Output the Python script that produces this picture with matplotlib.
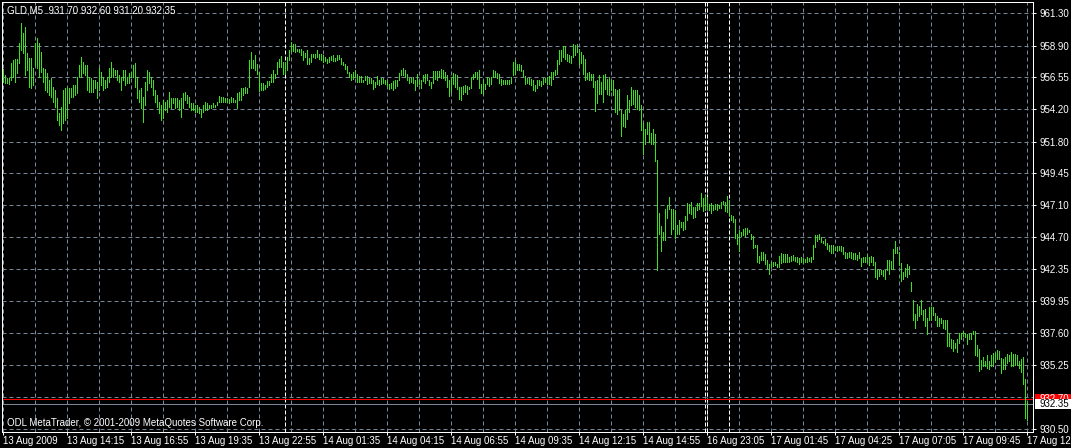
import matplotlib
matplotlib.use("Agg")
import matplotlib.pyplot as plt
import matplotlib.transforms as mtransforms
from matplotlib.patches import Rectangle
import numpy as np

plt.rcParams['font.family'] = ['Liberation Sans', 'DejaVu Sans']

# chart data, one entry per 5 minute bar
symbol = "GLD,M5"
last_ohlc = [931.70, 932.60, 931.20, 932.35]
bid = 932.35
ask = 932.70

highs = [
    957.16, 956.74, 956.49, 956.49, 957.60, 957.85, 957.90, 957.90, 959.08, 960.56,
    959.82, 960.32, 958.34, 957.97, 957.97, 957.23, 959.08, 959.45, 959.08, 958.46,
    957.23, 957.16, 956.86, 956.37, 956.49, 955.87, 955.62, 955.01, 953.90, 954.39,
    955.62, 955.75, 955.87, 955.75, 955.75, 955.99, 955.99, 956.61, 957.48, 958.09,
    957.72, 957.48, 957.48, 956.61, 956.49, 956.37, 956.37, 956.24, 957.23, 956.98,
    956.61, 956.37, 956.61, 957.23, 957.72, 957.23, 957.11, 957.11, 956.74, 956.61,
    957.11, 957.11, 956.61, 956.86, 956.98, 957.48, 957.60, 956.61, 955.62, 955.75,
    955.13, 956.24, 957.11, 956.98, 956.61, 956.37, 955.62, 955.25, 954.76, 954.51,
    954.88, 954.76, 954.88, 955.50, 955.01, 955.01, 955.01, 955.01, 954.88, 955.01,
    955.38, 955.50, 955.25, 955.13, 954.64, 954.64, 954.51, 954.51, 954.39, 954.14,
    954.51, 954.76, 954.64, 954.51, 954.51, 954.64, 954.51, 954.76, 955.18, 955.13,
    955.08, 955.01, 955.01, 954.93, 955.08, 955.01, 954.88, 955.38, 955.50, 955.75,
    955.75, 955.87, 955.75, 957.85, 958.46, 957.85,
    958.19, 957.57, 956.95, 956.14, 956.14, 955.97, 956.29, 956.29, 956.78, 957.13,
    956.83, 957.69, 957.94, 958.11, 957.69, 957.69, 958.06, 958.56, 959.15, 959.05,
    959.05, 958.68, 958.68, 958.68, 958.51, 958.36, 958.61, 958.02, 958.31, 958.31,
    958.31, 958.56, 958.31, 958.31, 958.19, 958.06, 957.94, 958.06, 958.11, 958.19,
    958.02, 958.19, 958.19, 957.99, 957.69, 957.57, 957.37, 956.95, 956.78, 956.95,
    957.13, 956.78, 956.63, 956.63, 956.34, 956.63, 956.63, 956.53, 956.53, 956.34,
    956.21, 956.63, 956.39, 956.53, 956.53, 956.34, 956.34, 956.09, 956.14, 956.29,
    956.34, 956.39, 956.88, 957.08, 957.27, 957.13, 956.83, 956.53, 956.53, 956.58,
    956.39, 956.83, 956.34, 956.34, 956.71, 956.83, 956.78, 956.39, 956.21, 957.03,
    957.03, 957.03, 957.03, 957.20, 957.13, 956.95, 956.71, 956.39, 956.53, 956.88,
    956.83, 956.71, 955.84, 955.84, 955.89, 955.97, 955.89, 955.84, 956.58, 956.83,
    956.95, 956.95, 957.08, 956.09, 956.34, 956.09, 956.58, 956.53, 956.58, 957.08,
    957.03, 956.88, 956.83, 956.46, 956.39, 956.39, 956.34, 956.39, 956.58, 957.69,
    957.82, 957.57, 957.52, 957.45, 957.08, 956.63, 956.53, 956.53, 956.46, 956.34,
    955.97, 956.39, 956.34, 956.29, 956.53, 956.53, 956.58, 956.63, 956.95, 956.95,
    957.08, 957.82, 958.61, 958.61, 958.85, 958.85, 958.31, 958.19, 958.11, 959.05,
    958.93, 959.00, 958.68, 958.44, 958.19, 957.94, 956.88, 956.95, 956.83, 956.83,
    956.29, 956.34, 956.71, 956.21, 956.71, 956.78, 956.46, 956.58, 956.34, 956.34,
    955.72, 955.60, 955.72, 954.11, 953.87, 954.11, 955.23, 954.86, 955.84, 955.65,
    955.65, 955.60, 955.23, 954.49, 953.18, 952.76, 953.25, 953.25, 952.44, 952.76,
    952.39, 950.41, 946.51, 945.52, 945.10, 946.83, 947.08, 947.70, 946.83, 946.83,
    946.71, 945.60, 946.02, 945.84, 945.84, 946.26, 947.25, 947.20, 947.32, 946.95,
    946.95, 947.25, 947.25, 947.99, 947.65, 947.82, 947.70, 947.20, 947.25, 947.08,
    947.15, 947.20, 947.08, 947.32, 947.40, 947.32, 947.74, 947.45, 946.34, 946.26,
    946.09, 944.93, 945.23, 945.10, 945.35, 945.42, 945.42, 945.23, 944.98, 944.78,
    944.12, 944.12, 943.30, 943.62, 943.62, 943.50, 943.00, 942.71,
    942.91, 942.91, 942.91, 942.74, 943.33, 943.57, 943.47, 943.47, 943.47, 943.23,
    943.33, 943.40, 943.28, 943.23, 943.16, 943.23, 943.16, 943.08, 943.23, 943.16,
    943.23, 944.14, 944.87, 944.87, 944.95, 944.70, 944.46, 944.56, 944.31, 944.14,
    944.14, 944.14, 944.02, 944.06, 944.06, 944.06, 943.97, 943.65, 943.57, 943.65,
    943.65, 943.57, 943.52, 943.40, 943.65, 943.16, 943.23, 943.28, 943.47, 943.23,
    943.33, 943.23, 942.84, 942.35, 942.30, 942.30, 942.30, 942.25, 943.03, 943.03,
    942.98, 943.82, 944.46, 944.02, 943.65, 942.79, 942.10, 942.42, 942.74, 942.59,
    941.36, 940.04, 939.05, 939.79, 939.59, 940.04, 939.35, 939.40, 938.73, 939.55,
    939.55, 939.55, 939.10, 938.91, 938.73, 938.73, 938.61, 938.61, 938.56, 937.63,
    937.14, 937.09, 936.91, 937.19, 937.63, 937.63, 937.75, 937.58, 937.51, 937.51,
    937.63, 937.75, 937.75, 936.70, 936.40, 935.62, 935.86, 935.54, 935.96, 935.54,
    935.96, 936.11, 936.11, 936.35, 936.28, 935.79, 935.66, 935.86, 936.03, 935.96,
    936.21, 936.03, 936.03, 935.96, 935.54, 935.66, 935.86, 934.19, 932.60,
]

lows = [
    956.24, 956.12, 956.12, 956.07, 956.37, 956.61, 956.24, 956.86, 957.60, 958.59,
    958.34, 956.74, 957.11, 955.87, 955.75, 955.99, 957.48, 957.23, 956.61, 956.98,
    956.24, 955.62, 955.50, 955.25, 955.13, 954.76, 954.39, 953.40, 953.03, 952.66,
    953.16, 953.40, 953.53, 954.64, 955.13, 955.13, 955.25, 955.38, 956.61, 956.61,
    956.86, 956.74, 955.62, 955.50, 955.50, 955.50, 955.75, 955.01, 955.62, 955.99,
    955.62, 955.75, 955.87, 956.24, 956.61, 956.61, 956.74, 956.37, 956.24, 955.62,
    956.37, 955.99, 956.12, 956.12, 956.61, 956.61, 955.87, 955.01, 954.76, 954.27,
    953.28, 954.51, 955.62, 956.12, 955.87, 955.25, 954.76, 954.39, 953.90, 953.40,
    953.53, 954.14, 954.02, 954.39, 954.27, 954.64, 954.27, 954.39, 954.14, 953.65,
    954.27, 954.88, 954.64, 954.39, 954.14, 954.14, 954.02, 954.02, 953.90, 953.65,
    954.02, 954.14, 954.14, 954.27, 954.27, 954.39, 954.39, 954.51, 954.76, 954.76,
    954.76, 954.76, 954.76, 954.69, 954.76, 954.76, 954.76, 954.27, 954.88, 954.88,
    955.25, 955.38, 955.38, 955.87, 957.23, 957.23,
    957.08, 956.83, 955.55, 955.60, 955.65, 955.72, 955.84, 955.97, 956.21, 956.21,
    956.53, 956.83, 957.32, 957.32, 956.83, 956.78, 957.08, 957.82, 958.51, 958.51,
    958.44, 958.51, 958.44, 958.19, 957.87, 958.06, 957.57, 957.57, 957.69, 958.06,
    958.02, 958.06, 957.94, 957.82, 957.69, 957.77, 957.62, 957.69, 957.82, 957.77,
    957.77, 957.82, 957.94, 957.57, 957.45, 957.20, 956.88, 956.58, 956.39, 956.46,
    956.58, 956.21, 956.21, 956.21, 956.21, 956.39, 956.09, 956.14, 956.14, 955.72,
    955.84, 956.04, 955.97, 956.09, 956.14, 956.09, 955.89, 955.72, 955.79, 955.65,
    955.79, 955.89, 956.34, 956.71, 956.71, 956.58, 956.39, 956.14, 956.21, 956.14,
    955.65, 955.89, 956.09, 955.79, 956.29, 956.14, 956.34, 955.97, 955.79, 956.14,
    956.46, 956.39, 956.58, 956.53, 956.53, 956.39, 955.84, 955.15, 955.47, 956.04,
    955.84, 955.72, 954.98, 954.90, 955.35, 955.47, 955.30, 955.72, 955.79, 956.46,
    956.58, 956.46, 955.79, 955.40, 955.30, 955.72, 956.04, 955.89, 956.04, 956.58,
    956.58, 956.53, 956.14, 955.97, 956.04, 956.04, 956.04, 956.04, 956.14, 956.71,
    956.83, 957.13, 957.08, 957.03, 956.63, 956.09, 956.14, 956.04, 955.97, 955.60,
    955.55, 955.79, 955.97, 955.89, 956.09, 956.21, 956.04, 956.04, 955.97, 956.46,
    956.71, 956.83, 957.57, 957.77, 958.06, 957.94, 957.77, 957.69, 957.62, 958.06,
    958.19, 958.44, 957.45, 957.62, 956.83, 956.34, 956.46, 956.34, 956.39, 955.84,
    954.07, 954.66, 955.35, 955.30, 954.73, 955.72, 955.35, 955.23, 955.65, 955.23,
    953.99, 953.87, 954.11, 952.19, 952.93, 952.88, 953.50, 953.99, 954.49, 954.61,
    954.36, 954.24, 954.11, 952.63, 950.86, 951.65, 952.34, 951.77, 951.65, 951.60,
    950.36, 942.31, 944.98, 943.70, 944.49, 944.53, 946.16, 946.83, 944.93, 945.35,
    944.68, 944.93, 944.93, 945.47, 945.28, 945.35, 946.02, 946.51, 946.46, 946.16,
    946.21, 946.71, 946.83, 947.00, 946.66, 946.71, 946.83, 946.76, 946.51, 946.71,
    946.83, 946.76, 946.91, 946.91, 947.15, 946.66, 946.58, 946.34, 945.97, 945.84,
    944.68, 944.24, 943.70, 944.78, 944.86, 944.78, 944.93, 945.10, 944.61, 943.94,
    943.99, 942.88, 942.81, 943.05, 943.05, 942.76, 942.46, 941.97,
    942.49, 942.59, 942.66, 942.49, 942.49, 942.79, 942.91, 942.91, 942.91, 942.91,
    942.98, 943.03, 942.98, 942.91, 942.74, 942.91, 942.79, 942.84, 942.91, 942.98,
    942.91, 943.08, 944.02, 944.46, 944.56, 944.38, 944.31, 944.14, 943.82, 943.72,
    943.57, 943.57, 943.77, 943.72, 943.77, 943.72, 943.47, 943.16, 943.16, 943.28,
    943.16, 943.08, 943.08, 943.03, 943.16, 942.59, 942.84, 942.84, 942.91, 942.66,
    942.84, 942.66, 941.76, 941.61, 941.85, 942.00, 941.85, 941.61, 942.30, 942.00,
    942.35, 942.35, 943.57, 943.52, 942.66, 941.44, 941.61, 941.85, 941.76, 942.00,
    940.70, 938.56, 938.00, 938.61, 938.86, 939.05, 938.61, 938.12, 937.51, 938.56,
    938.61, 938.98, 938.56, 938.12, 938.12, 938.32, 938.00, 937.88, 936.65, 936.65,
    936.52, 936.28, 936.52, 936.21, 936.91, 937.14, 937.40, 937.35, 936.77, 937.14,
    937.14, 937.51, 935.96, 935.91, 934.81, 934.93, 935.17, 935.17, 935.05, 934.93,
    935.17, 935.17, 935.47, 935.72, 935.66, 934.68, 934.93, 934.98, 935.42, 935.54,
    935.17, 935.17, 935.22, 935.22, 935.05, 934.73, 933.82, 931.29, 931.20,
]

time_labels = [
    "13 Aug 2009", "13 Aug 14:15", "13 Aug 16:55", "13 Aug 19:35", "13 Aug 22:55",
    "14 Aug 01:35", "14 Aug 04:15", "14 Aug 06:55", "14 Aug 09:35", "14 Aug 12:15",
    "14 Aug 14:55", "16 Aug 23:05", "17 Aug 01:45", "17 Aug 04:25", "17 Aug 07:05",
    "17 Aug 09:45", "17 Aug 12:25",
]
label_step = 32     # bars between time labels
price_ticks = [961.30, 958.90, 956.55, 954.20, 951.80, 949.45, 947.10,
               944.70, 942.35, 939.95, 937.60, 935.25, 930.50]
hidden_grid = [932.85]          # grid level hidden behind the price labels
separators = [141, 351, 352, 363]  # bar index of day breaks

assert len(highs) == len(lows)

W, H = 1071, 448
grid_col = '#778899'
bar_col = '#3ce01e'
px = 0.72  # one pixel in points

fig = plt.figure(figsize=(W / 100, H / 100), dpi=100, facecolor='black')
ax = fig.add_axes([2 / W, 16 / H, 1031 / W, 430 / H], facecolor='black')

x = np.arange(len(highs))
ax.vlines(x, lows, highs, colors=bar_col, linewidth=px, antialiased=False, zorder=3)

ax.set_xlim(-0.65, 514.85)
ax.set_ylim(930.28, 962.14)

# time axis
ax.set_xticks(np.arange(len(time_labels)) * label_step)
ax.set_xticklabels(time_labels)
for lab in ax.get_xticklabels():
    lab.set_horizontalalignment('left')
ax.set_xticks(np.arange(len(time_labels) - 1) * label_step + label_step // 2, minor=True)

# price axis
ax.yaxis.tick_right()
ax.set_yticks(price_ticks)
ax.set_yticklabels([f"{p:.2f}" for p in price_ticks])
ax.set_yticks(hidden_grid, minor=True)

ax.tick_params(which='major', colors='white', labelcolor='white', labelsize=7,
               width=px, length=2.2)
ax.tick_params(axis='x', which='major', pad=1.0)
ax.tick_params(axis='y', which='major', pad=2.2)
ax.tick_params(which='minor', length=0)

ax.grid(which='both', color=grid_col, linewidth=px, linestyle=(0, (4, 3)), zorder=0)
ax.set_axisbelow(True)

for s in ax.spines.values():
    s.set_color('white')
    s.set_linewidth(px)

# day separators
ax.vlines(separators, 930.28, 962.14, colors='white', linewidth=px,
          linestyles=(0, (4, 2)), zorder=1)

# bid / ask lines
ax.axhline(ask, color='#ff0000', linewidth=px, zorder=2)
ax.axhline(bid, color=grid_col, linewidth=px, zorder=2)

# price labels on the right: the bid label sits over the lower half of the ask label
trans = mtransforms.blended_transform_factory(fig.transFigure, ax.transData)
units_per_px = (962.14 - 930.28) / 430
half = 5.4 * units_per_px
box_x = 1035 / W
ask_box = Rectangle((box_x, ask - half), 1 - box_x, 2 * half, transform=trans,
                    facecolor='#ff0000', edgecolor='none', clip_on=False, zorder=5)
ax.add_patch(ask_box)
ask_visible = Rectangle((box_x, bid + half), 1 - box_x, (ask + half) - (bid + half),
                        transform=trans, facecolor='none', edgecolor='none')
ax.add_patch(ask_visible)
t = ax.text(1039 / W, ask, f"{ask:.2f}", transform=trans, color='white', fontsize=7,
            va='center', ha='left', zorder=6)
t.set_clip_path(ask_visible)
ax.add_patch(Rectangle((box_x, bid - half), 1 - box_x, 2 * half, transform=trans,
                       facecolor='white', edgecolor='none', clip_on=False, zorder=7))
ax.text(1039 / W, bid, f"{bid:.2f}", transform=trans, color='black', fontsize=7,
        va='center', ha='left', clip_on=False, zorder=8)

# captions
head = symbol + "  " + " ".join(f"{v:.2f}" for v in last_ohlc)
fig.text(7 / W, 1 - 10.7 / H, head, color='white', fontsize=7, va='center', ha='left')
fig.text(7 / W, 1 - 422.7 / H, "ODL MetaTrader, \u00a9 2001-2009 MetaQuotes Software Corp.",
         color='white', fontsize=7, va='center', ha='left')

fig.savefig("out.png", dpi=100, facecolor='black')
